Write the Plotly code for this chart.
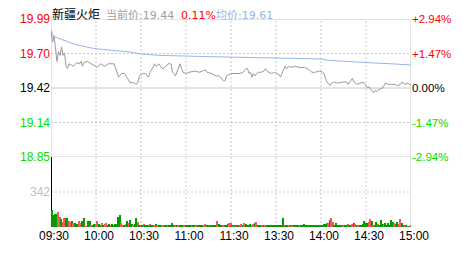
import plotly.graph_objects as go

# ---------------- data ----------------
stock_name = "新疆火炬"
prev_close = 19.42
cur_price_label = "当前价:19.44"
cur_pct_label = "0.11%"
avg_price_label = "均价:19.61"

price_ticks = [19.99, 19.705, 19.42, 19.135, 18.85]
price_labels = ["19.99", "19.70", "19.42", "19.14", "18.85"]
pct_labels = ["+2.94%", "+1.47%", "0.00%", "-1.47%", "-2.94%"]
price_tick_colors = ["#ff0000", "#ff0000", "#000000", "#00e000", "#00e000"]
price_grid_solid = [True, False, True, False, True]

time_ticks = [0, 30, 60, 90, 120, 150, 180, 210, 240]
time_labels = ["09:30", "10:00", "10:30", "11:00", "11:30", "13:30", "14:00", "14:30", "15:00"]

vol_ticks = [342]
vol_labels = ["342"]
vol_max = 684

price_min = [0, 1, 2, 3, 4, 5, 6, 7, 8, 9, 10, 11, 12, 15, 17, 19, 20, 21, 22, 24, 27, 29, 31, 33, 36, 38,
             42, 44, 45, 47, 49, 51, 53, 54, 57, 58, 59, 61, 63, 65, 66, 68, 69, 70, 72, 74, 76, 78, 80, 81,
             82, 83, 84, 86, 87, 88, 90, 92, 96, 99, 101, 103, 104, 107, 110, 112, 113, 115, 116, 117, 120,
             122, 124, 126, 128, 130, 131, 132, 133, 134, 135, 136, 138, 140, 142, 143, 145, 147, 149, 152,
             153, 154, 156, 157, 159, 160, 163, 165, 167, 169, 171, 174, 176, 179, 181, 182, 183, 184, 186,
             187, 189, 191, 195, 197, 198, 199, 201, 202, 204, 206, 208, 210, 211, 212, 213, 215, 216, 217,
             219, 221, 223, 225, 227, 229, 231, 233, 234, 236, 238, 240]
price_val = [19.89, 19.80, 19.85, 19.75, 19.64, 19.72, 19.69, 19.76, 19.69, 19.71, 19.60, 19.58, 19.62,
             19.60, 19.63, 19.62, 19.64, 19.60, 19.63, 19.64, 19.62, 19.60, 19.59, 19.62, 19.60, 19.62,
             19.62, 19.55, 19.51, 19.54, 19.54, 19.50, 19.46, 19.47, 19.45, 19.47, 19.52, 19.54, 19.54,
             19.51, 19.55, 19.59, 19.62, 19.60, 19.62, 19.58, 19.59, 19.62, 19.62, 19.55, 19.54, 19.52,
             19.56, 19.62, 19.58, 19.55, 19.54, 19.55, 19.56, 19.55, 19.56, 19.57, 19.55, 19.54, 19.52,
             19.52, 19.51, 19.48, 19.48, 19.52, 19.54, 19.54, 19.54, 19.54, 19.55, 19.58, 19.58, 19.54,
             19.55, 19.51, 19.54, 19.52, 19.55, 19.55, 19.56, 19.58, 19.55, 19.54, 19.55, 19.53, 19.51,
             19.54, 19.60, 19.58, 19.60, 19.59, 19.60, 19.59, 19.59, 19.59, 19.58, 19.55, 19.55, 19.56,
             19.55, 19.54, 19.50, 19.47, 19.44, 19.46, 19.47, 19.46, 19.47, 19.47, 19.45, 19.47, 19.50,
             19.47, 19.45, 19.46, 19.47, 19.44, 19.42, 19.43, 19.41, 19.38, 19.40, 19.39, 19.41, 19.42,
             19.46, 19.45, 19.45, 19.45, 19.44, 19.45, 19.47, 19.45, 19.46, 19.44]

avg_min = [0, 1, 3, 7, 11, 16, 20, 27, 33, 42, 51, 61, 72, 102, 138, 180, 184, 195, 210, 227, 240]
avg_val = [19.90, 19.86, 19.84, 19.82, 19.80, 19.78, 19.77, 19.75, 19.74, 19.73, 19.72, 19.70, 19.69,
           19.68, 19.67, 19.66, 19.65, 19.64, 19.63, 19.62, 19.61]

volume = [1000,
          162, 117, 123, 129, 144, 99, 78, 48, 90, 84, 84, 63, 48, 63, 40, 42, 32, 33, 54, 40,
          63, 90, 24, 9, 54, 54, 24, 18, 30, 30, 54, 30, 24, 36, 24, 30, 42, 24, 30, 24,
          30, 24, 30, 27, 96, 120, 36, 18, 24, 30, 63, 36, 72, 30, 24, 30, 84, 48, 24, 18,
          24, 27, 18, 24, 18, 30, 18, 24, 18, 27, 18, 24, 18, 24, 18, 18, 18, 18, 12, 24,
          36, 18, 12, 18, 24, 18, 18, 18, 24, 18, 18, 12, 24, 18, 24, 18, 12, 18, 18, 24,
          24, 24, 30, 18, 18, 18, 24, 18, 18, 18, 54, 30, 24, 18, 24, 18, 24, 30, 36, 36,
          24, 18, 18, 18, 18, 24, 30, 18, 42, 30, 24, 24, 30, 18, 30, 42, 48, 24, 18, 18,
          24, 18, 24, 18, 18, 18, 18, 18, 18, 18, 18, 18, 18, 18, 84, 24, 18, 18, 18, 18,
          18, 18, 18, 18, 18, 18, 18, 24, 30, 24, 18, 24, 18, 18, 18, 24, 18, 18, 18, 24,
          18, 30, 30, 39, 39, 66, 90, 45, 24, 39, 24, 18, 18, 18, 24, 18, 24, 30, 18, 24,
          30, 39, 30, 18, 18, 18, 24, 30, 60, 39, 39, 48, 81, 60, 24, 24, 45, 30, 24, 69,
          30, 30, 39, 24, 39, 24, 66, 45, 36, 30, 51, 30, 81, 39, 24, 12, 12, 9, 9, 12]
# direction per minute: A = opening auction, G = down tick, R = up tick
vol_dir = ("A"
           "GGGGRRGRRGGRRGRGGGRR"
           "GGRRGGRGGRRGGRGRRGGR"
           "GGGGGGRRGRGRGGRGGRGR"
           "GRGGGRGGRGRGGRRGGRGG"
           "GGRGRGGGRGGGGRGGRGGG"
           "GRRGGRGGGGRGGGRGGGRR"
           "GRGRGRRGRGGGGRRGRGGG"
           "RGRGGGGGGGGGGGGRGGRG"
           "RGGGGRGGGGGGGGGGGGGG"
           "GGGGRGRRGGGGGGRGGRGG"
           "RGRGRGGGGGGRRGRGGRGG"
           "GRGGGGGGRGGRRGGRGRGR")

# ---------------- styling ----------------
RED, GREEN_BAR, RED_BAR = "#ff0000", "#009c00", "#f05a5a"
GRID = "#c8c8c8"
FONT = "Liberation Sans, Arial, Noto Sans CJK SC, sans-serif"
dir_color = {"A": "#000000", "G": GREEN_BAR, "R": RED_BAR}
vol_colors = [dir_color[c] for c in vol_dir]
vol_minutes = list(range(len(volume)))
vol_widths = [1.4 if c == "A" else 0.75 for c in vol_dir]

fig = go.Figure()
fig.add_trace(go.Bar(x=vol_minutes, y=volume, marker=dict(color=vol_colors, line=dict(width=0)),
                     width=vol_widths, xaxis="x", yaxis="y2", hoverinfo="skip"))
fig.add_trace(go.Scatter(x=avg_min, y=avg_val, mode="lines", line=dict(color="#96b4ec", width=1),
                         xaxis="x", yaxis="y", hoverinfo="skip"))
fig.add_trace(go.Scatter(x=price_min, y=price_val, mode="lines", line=dict(color="#9a9a9a", width=1),
                         xaxis="x", yaxis="y", hoverinfo="skip"))
# invisible trace so that the right axis is drawn
fig.add_trace(go.Scatter(x=[time_ticks[0]], y=[prev_close], mode="markers", marker=dict(opacity=0),
                         xaxis="x", yaxis="y3", hoverinfo="skip"))

shapes = []
for v, solid in zip(price_ticks, price_grid_solid):
    shapes.append(dict(type="line", xref="x domain", x0=0, x1=1, yref="y", y0=v, y1=v, layer="below",
                       line=dict(color=GRID, width=1, dash="solid" if solid else "2px,2px")))
for v in vol_ticks:
    shapes.append(dict(type="line", xref="x domain", x0=0, x1=1, yref="y2", y0=v, y1=v, layer="below",
                       line=dict(color=GRID, width=1, dash="2px,2px")))
shapes.append(dict(type="line", xref="x domain", x0=0, x1=1, yref="y2", y0=0, y1=0, layer="below",
                   line=dict(color=GRID, width=1)))
for t in time_ticks:
    edge = t in (time_ticks[0], time_ticks[-1])
    shapes.append(dict(type="line", xref="x", x0=t, x1=t, yref="paper", y0=0, y1=1, layer="below",
                       line=dict(color=GRID, width=1, dash="solid" if edge else "2px,2px")))

price_text = [f'<span style="color:{c}">{s}</span>' for s, c in zip(price_labels, price_tick_colors)]
pct_text = [f'<span style="color:{c}">{s}</span>' for s, c in zip(pct_labels, price_tick_colors)]

W, H = 463, 255
L, R, T, B = 51, 50, 12, 23
pw = W - L - R
split = 74 / (H - T - B)

def px(xp):
    return (xp - L) / pw

annots = [
    dict(text=stock_name, x=px(51), font=dict(color="#000000", size=12)),
    dict(text=cur_price_label, x=px(105), font=dict(color="#a0a0a0", size=11)),
    dict(text=cur_pct_label, x=px(181), font=dict(color=RED, size=11)),
    dict(text=avg_price_label, x=px(216), font=dict(color="#99b4e8", size=11)),
]
for a in annots:
    a.update(xref="paper", yref="paper", y=1, yanchor="bottom", xanchor="left", showarrow=False,
             yshift=-4, borderpad=0)
    a["font"]["family"] = "DejaVu Sans, Noto Sans CJK SC, sans-serif"

fig.update_layout(
    width=W, height=H, margin=dict(l=L, r=R, t=T, b=B),
    paper_bgcolor="white", plot_bgcolor="white", showlegend=False,
    font=dict(family=FONT, size=12, color="#000000"),
    bargap=0, shapes=shapes, annotations=annots,
    xaxis=dict(anchor="y2", range=[time_ticks[0], time_ticks[-1]], tickmode="array", tickvals=time_ticks,
               ticktext=time_labels, showgrid=False, zeroline=False, showline=False, ticks="",
               ticklabelshift=3, tickfont=dict(size=12, color="#000000"), fixedrange=True),
    yaxis=dict(domain=[split, 1], anchor="x", range=[price_ticks[-1], price_ticks[0]], tickmode="array",
               tickvals=price_ticks, ticktext=price_text, showgrid=False, zeroline=False,
               showline=False, ticks="", tickfont=dict(size=12)),
    yaxis3=dict(overlaying="y", anchor="x", side="right", range=[price_ticks[-1], price_ticks[0]],
                tickmode="array", tickvals=price_ticks, ticktext=pct_text, showgrid=False,
                zeroline=False, showline=False, ticks="", tickfont=dict(size=11.5)),
    yaxis2=dict(domain=[0, split], anchor="x", range=[0, vol_max], tickmode="array", tickvals=vol_ticks,
                ticktext=vol_labels, showgrid=False, zeroline=False, showline=False, ticks="",
                tickfont=dict(size=12, color="#c0c0c0")),
)

fig.write_html("out.html")
